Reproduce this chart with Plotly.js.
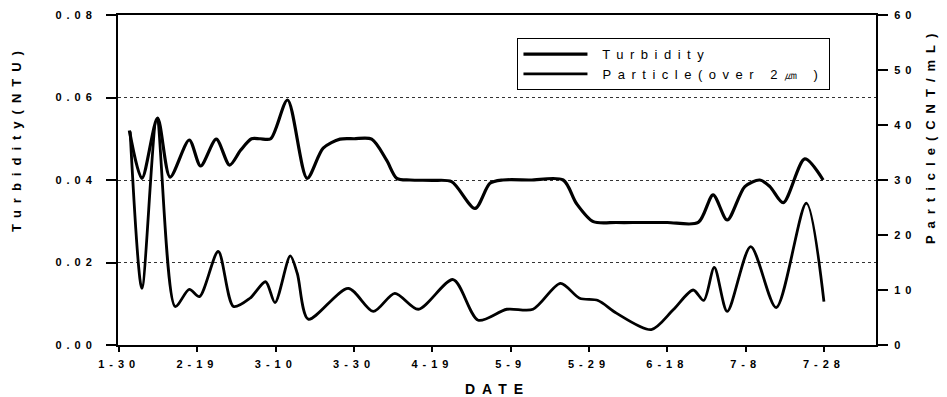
<!DOCTYPE html>
<html>
<head>
<meta charset="utf-8">
<script src="https://cdn.plot.ly/plotly-3.0.1.min.js"></script>
<style>
html,body{margin:0;padding:0;background:#fff;}
#chart{width:947px;height:397px;}
.xtick text, .ytick text, .y2tick text { letter-spacing: 5px; }
.legendtext { letter-spacing: 6.5px; }
.annotation-text { letter-spacing: 7px; }
</style>
</head>
<body>
<div id="chart"></div>
<script>
// Day offsets from 1-30 and readings
const turbDays = [2.6, 5.8, 9.8, 13, 17.9, 20.8, 24.8, 28.2, 31, 33.8, 36, 38.7, 43, 48, 52.1, 56.4, 60, 64.5, 68.3, 70.9, 74.3, 80, 84.9, 90.9, 94.7, 98, 105, 113.4, 116.8, 121.1, 127, 133, 140, 147.9, 151.7, 155.3, 159.8, 163.6, 166.2, 169.6, 175.1, 179.8];
const turbidity = [0.052, 0.0404, 0.055, 0.0407, 0.0497, 0.0434, 0.0499, 0.0436, 0.0472, 0.0500, 0.0500, 0.0500, 0.0594, 0.0404, 0.0477, 0.0499, 0.0500, 0.0499, 0.0448, 0.0404, 0.0400, 0.0399, 0.0396, 0.0331, 0.0392, 0.0400, 0.0400, 0.0400, 0.0343, 0.0299, 0.0297, 0.0297, 0.0297, 0.0297, 0.0364, 0.0303, 0.0384, 0.0400, 0.0384, 0.0345, 0.0451, 0.0400];

const partDays = [2.8, 5.8, 9.6, 14.3, 17.9, 20.5, 25.3, 29.2, 33.4, 37.4, 39.8, 43.7, 45.5, 48.3, 58.5, 64.9, 70.4, 76.4, 85.3, 91.7, 99, 105.7, 112.7, 117.6, 122.3, 127, 135.9, 141.5, 146.6, 149.3, 152, 155.3, 161.3, 167.8, 175.5, 180];
const particle = [38.8, 10.3, 40.9, 7.0, 10.1, 8.8, 17.0, 7.0, 8.5, 11.5, 7.7, 16.2, 13.0, 4.7, 10.3, 6.1, 9.4, 6.5, 11.9, 4.5, 6.5, 6.5, 11.2, 8.5, 8.1, 5.8, 2.8, 6.4, 10.0, 8.1, 14.1, 6.1, 17.9, 6.8, 25.8, 7.9];

const xTickVals = [0, 20, 40, 60, 80, 100, 120, 140, 160, 180];
const xTickText = ['1-30', '2-19', '3-10', '3-30', '4-19', '5-9', '5-29', '6-18', '7-8', '7-28'];
const yTickVals = [0, 0.02, 0.04, 0.06, 0.08];
const yTickText = ['0.00', '0.02', '0.04', '0.06', '0.08'];
const y2TickVals = [0, 10, 20, 30, 40, 50, 60];
const y2TickText = ['0', '10', '20', '30', '40', '50', '60'];

const FONT = 'Liberation Sans, Arial, sans-serif';
const tickFont = {family: FONT, size: 11, color: '#000', weight: 'bold'};
const titleFont = {family: FONT, size: 13, color: '#000', weight: 'bold'};

const traces = [
  {
    x: turbDays, y: turbidity, name: ' Turbidity', type: 'scatter', mode: 'lines',
    line: {color: '#000', width: 3.2, shape: 'spline', smoothing: 0.8}, yaxis: 'y'
  },
  {
    x: partDays, y: particle, name: ' Particle(over 2㎛ )', type: 'scatter', mode: 'lines',
    line: {color: '#000', width: 2.8, shape: 'spline', smoothing: 0.8}, yaxis: 'y2'
  }
];

const layout = {
  width: 947, height: 397,
  margin: {l: 118, r: 71, t: 15, b: 52},
  paper_bgcolor: '#fff', plot_bgcolor: '#fff',
  showlegend: true,
  legend: {
    x: 0.527, y: 0.93, xanchor: 'left', yanchor: 'top',
    bordercolor: '#000', borderwidth: 1, bgcolor: '#fff',
    font: {family: FONT, size: 13, color: '#000'},
    itemwidth: 64,
    tracegroupgap: 0
  },
  xaxis: {
    range: [-0.3, 193.3], tickvals: xTickVals, ticktext: xTickText,
    showgrid: false, zeroline: false,
    showline: true, linecolor: '#000', linewidth: 2, mirror: true,
    ticks: 'outside', ticklen: 5, tickwidth: 2, tickcolor: '#000',
    ticklabelstandoff: 3,
    tickfont: tickFont
  },
  yaxis: {
    range: [0, 0.08], tickvals: yTickVals, ticktext: yTickText,
    showgrid: true, gridcolor: '#333', griddash: 'dot', gridwidth: 1,
    zeroline: false,
    showline: true, linecolor: '#000', linewidth: 2,
    ticks: 'outside', ticklen: 10, tickwidth: 2, tickcolor: '#000',
    ticklabelstandoff: 7,
    tickfont: tickFont
  },
  yaxis2: {
    range: [0, 60], tickvals: y2TickVals, ticktext: y2TickText,
    overlaying: 'y', side: 'right',
    showgrid: false, zeroline: false,
    showline: true, linecolor: '#000', linewidth: 2,
    ticks: 'outside', ticklen: 10, tickwidth: 2, tickcolor: '#000',
    ticklabelstandoff: 4,
    tickfont: tickFont
  },
  annotations: [
    {text: 'DATE', xref: 'paper', yref: 'paper', x: 0.5, y: -0.133, xanchor: 'center', yanchor: 'middle',
     showarrow: false, font: {family: FONT, size: 14, color: '#000', weight: 'bold'}},
    {text: 'Turbidity(NTU)', xref: 'paper', yref: 'paper', x: -0.1346, y: 0.627, xanchor: 'center', yanchor: 'middle',
     textangle: -90, showarrow: false, font: titleFont},
    {text: 'Particle(CNT/mL)', xref: 'paper', yref: 'paper', x: 1.0712, y: 0.636, xanchor: 'center', yanchor: 'middle',
     textangle: -90, showarrow: false, font: titleFont}
  ]
};

Plotly.newPlot('chart', traces, layout, {staticPlot: true, displayModeBar: false});
</script>
</body>
</html>
